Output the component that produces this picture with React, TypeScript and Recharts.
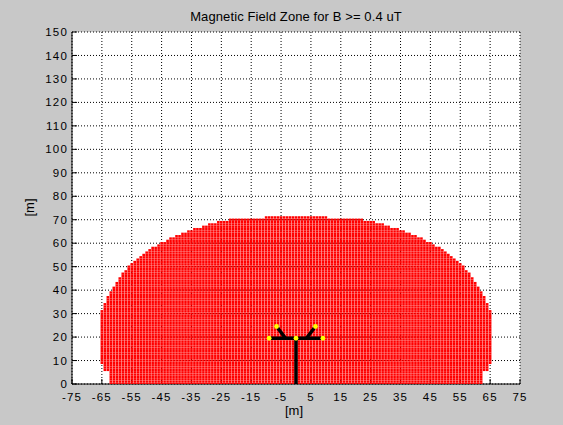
import { ScatterChart, Scatter, XAxis, YAxis, CartesianGrid } from "recharts";

const xTicks = [-75, -65, -55, -45, -35, -25, -15, -5, 5, 15, 25, 35, 45, 55, 65, 75];
const yTicks = [0, 10, 20, 30, 40, 50, 60, 70, 80, 90, 100, 110, 120, 130, 140, 150];

// rows of the B >= 0.4 uT zone: height [m] and left / right edge [m]
const zoneY = [
  0, 1, 2, 3, 4, 5, 6, 7, 8, 9, 10, 11, 12, 13, 14, 15, 16, 17, 18, 19, 20, 21, 22, 23,
  24, 25, 26, 27, 28, 29, 30, 31, 32, 33, 34, 35, 36, 37, 38, 39, 40, 41, 42, 43, 44, 45, 46, 47,
  48, 49, 50, 51, 52, 53, 54, 55, 56, 57, 58, 59, 60, 61, 62, 63, 64, 65, 66, 67, 68, 69, 70, 71,
];
const zoneLeft = [
  -62, -62, -62, -62, -62, -62, -64, -64, -64, -65, -65, -65, -65, -65, -65, -65, -65, -65, -65, -65, -65, -65, -65, -65,
  -65, -65, -65, -65, -65, -65, -65, -65, -64, -64, -64, -63, -63, -63, -62, -62, -61, -61, -60, -60, -59, -59, -58, -58,
  -57, -56, -56, -55, -54, -53, -52, -51, -50, -49, -48, -46, -45, -43, -42, -40, -38, -36, -34, -31, -29, -26, -22, -10,
];
const zoneRight = [
  62, 62, 62, 62, 62, 62, 64, 64, 64, 65, 65, 65, 65, 65, 65, 65, 65, 65, 65, 65, 65, 65, 65, 65,
  65, 65, 65, 65, 65, 65, 65, 65, 64, 64, 64, 63, 63, 63, 62, 62, 61, 61, 60, 60, 59, 59, 58, 58,
  57, 56, 56, 55, 54, 53, 52, 51, 50, 49, 48, 46, 45, 43, 42, 40, 38, 36, 34, 31, 29, 26, 22, 10,
];

// tower
const towerPole = [{ x: 0, y: 0 }, { x: 0, y: 19.5 }];
const towerArm = [{ x: -9, y: 19.5 }, { x: 9, y: 19.5 }];
const towerLeftPeak = [{ x: -3.5, y: 19.5 }, { x: -6.5, y: 24.5 }];
const towerRightPeak = [{ x: 3.5, y: 19.5 }, { x: 6.5, y: 24.5 }];
const conductors = [
  { x: -9, y: 19.5 }, { x: 0, y: 19.5 }, { x: 9, y: 19.5 },
  { x: -6.5, y: 24.5 }, { x: 6.5, y: 24.5 },
];

const zonePoints = zoneY.flatMap((y, i) => {
  const pts: { x: number; y: number }[] = [];
  for (let x = zoneLeft[i]; x <= zoneRight[i]; x++) pts.push({ x, y });
  return pts;
});

const font = '"Liberation Sans", Arial, sans-serif';
const tickStyle = { fill: "#000", fontSize: 11.5, fontFamily: font, letterSpacing: 1.2 };

const RedDot = (p: any) => (
  <rect x={p.cx - 1.3} y={p.cy - 1.15} width={2.6} height={2.3} fill="#ff0000" />
);
const YellowDot = (p: any) => <circle cx={p.cx} cy={p.cy} r={2.4} fill="#ffff00" />;
const NoDot = () => <g />;

export default function App() {
  return (
    <div
      style={{
        position: "fixed",
        left: 0,
        top: 0,
        width: 563,
        height: 425,
        background: "#c8c8c8",
        fontFamily: font,
      }}
    >
      <ScatterChart width={563} height={425} margin={{ top: 32, right: 43, bottom: 11, left: 32 }}>
        <CartesianGrid stroke="#000" strokeDasharray="1 2" fill="#fff" />
        <XAxis
          type="number"
          dataKey="x"
          domain={[-75, 75]}
          ticks={xTicks}
          interval={0}
          allowDataOverflow
          height={30}
          tickSize={-5}
          tickMargin={14}
          axisLine={{ stroke: "#000" }}
          tickLine={{ stroke: "#000" }}
          tick={tickStyle}
        />
        <YAxis
          type="number"
          dataKey="y"
          domain={[0, 150]}
          ticks={yTicks}
          interval={0}
          allowDataOverflow
          width={40}
          tickSize={-5}
          tickMargin={9}
          axisLine={{ stroke: "#000" }}
          tickLine={{ stroke: "#000" }}
          tick={tickStyle}
        />
        <Scatter data={zonePoints} shape={RedDot} isAnimationActive={false} />
        <Scatter data={towerPole} line={{ stroke: "#000", strokeWidth: 3.5 }} shape={NoDot} isAnimationActive={false} />
        <Scatter data={towerArm} line={{ stroke: "#000", strokeWidth: 3.5 }} shape={NoDot} isAnimationActive={false} />
        <Scatter data={towerLeftPeak} line={{ stroke: "#000", strokeWidth: 3.5 }} shape={NoDot} isAnimationActive={false} />
        <Scatter data={towerRightPeak} line={{ stroke: "#000", strokeWidth: 3.5 }} shape={NoDot} isAnimationActive={false} />
        <Scatter data={conductors} shape={YellowDot} isAnimationActive={false} />
      </ScatterChart>
      <div
        style={{
          position: "absolute",
          left: 72,
          width: 448,
          top: 10,
          textAlign: "center",
          fontSize: 13,
          lineHeight: "13px",
          letterSpacing: 0.1,
          color: "#000",
        }}
      >
        Magnetic Field Zone for B &gt;= 0.4 uT
      </div>
      <div
        style={{
          position: "absolute",
          left: 272,
          width: 44,
          top: 404,
          textAlign: "center",
          fontSize: 13,
          lineHeight: "13px",
          color: "#000",
        }}
      >
        [m]
      </div>
      <div
        style={{
          position: "absolute",
          left: 7,
          width: 44,
          top: 201,
          textAlign: "center",
          fontSize: 13,
          lineHeight: "13px",
          color: "#000",
          transform: "rotate(-90deg)",
        }}
      >
        [m]
      </div>
    </div>
  );
}
